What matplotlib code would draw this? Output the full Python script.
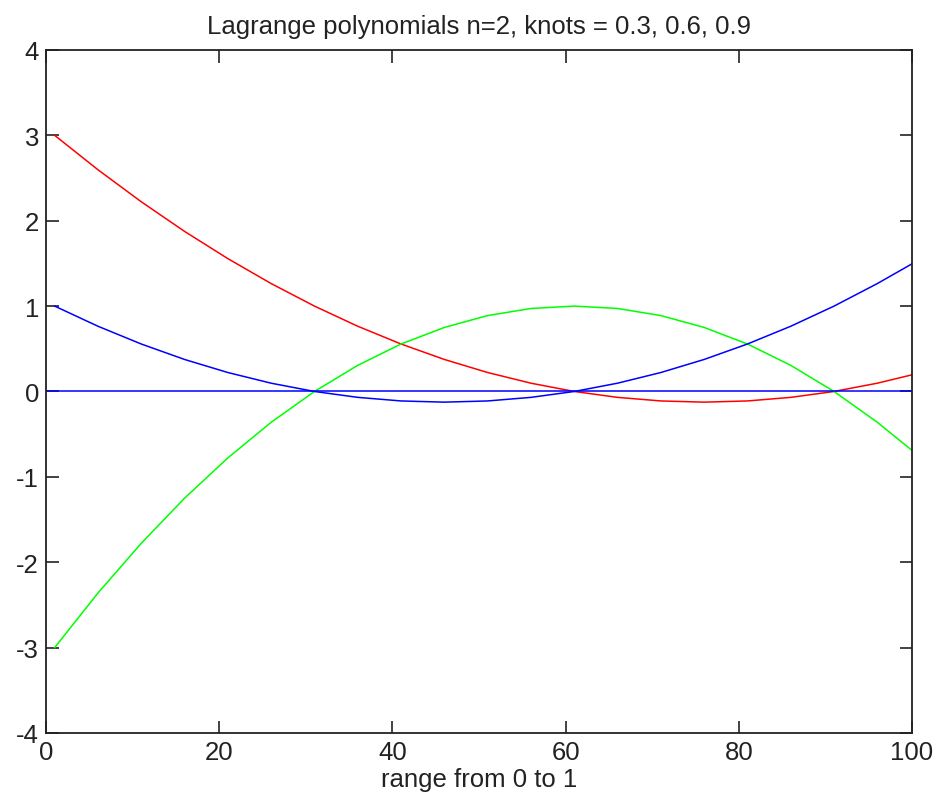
import matplotlib
matplotlib.use("Agg")
import matplotlib.pyplot as plt

plt.rcParams['font.family'] = ['Liberation Sans', 'DejaVu Sans']
plt.rcParams['axes.unicode_minus'] = False

# sample index (1..100 for t = 0..0.99), every 5th sample
idx = [1, 6, 11, 16, 21, 26, 31, 36, 41, 46, 51, 56, 61, 66, 71, 76, 81, 86, 91, 96, 100]

# basis polynomial for knot 0.3
l0 = [3.0, 2.597, 2.222, 1.875, 1.556, 1.264, 1.0, 0.764, 0.556, 0.375, 0.222,
      0.097, 0.0, -0.069, -0.111, -0.125, -0.111, -0.069, 0.0, 0.097, 0.195]
# basis polynomial for knot 0.6
l1 = [-3.0, -2.361, -1.778, -1.25, -0.778, -0.361, 0.0, 0.306, 0.556, 0.75, 0.889,
      0.972, 1.0, 0.972, 0.889, 0.75, 0.556, 0.306, 0.0, -0.361, -0.69]
# basis polynomial for knot 0.9
l2 = [1.0, 0.764, 0.556, 0.375, 0.222, 0.097, 0.0, -0.069, -0.111, -0.125, -0.111,
      -0.069, 0.0, 0.097, 0.222, 0.375, 0.556, 0.764, 1.0, 1.264, 1.495]

zero_x = [0, 100]
zero_y = [0, 0]

fig = plt.figure(figsize=(9.37, 8.04), dpi=100)
ax = fig.add_axes([0.0491, 0.0871, 0.9242, 0.8495])

ax.plot(idx, l0, color='#ff0000', lw=1.1)
ax.plot(idx, l1, color='#00ff00', lw=1.1)
ax.plot(idx, l2, color='#0000ff', lw=1.1)
ax.plot(zero_x, zero_y, color='#0000ff', lw=1.1)

ax.set_xlim(0, 100)
ax.set_ylim(-4, 4)
ax.set_xticks(range(0, 101, 20))
ax.set_yticks(range(-4, 5))
ax.tick_params(direction='in', length=9, width=1.2, labelsize=18.5, top=True, right=True,
               pad=5, colors='#222222')
for s in ax.spines.values():
    s.set_linewidth(1.3)
    s.set_color('#222222')

ax.set_title('Lagrange polynomials n=2, knots = 0.3, 0.6, 0.9', fontsize=18.5, pad=12,
             color='#222222')
ax.set_xlabel('range from 0 to 1', fontsize=18.5, labelpad=2, color='#222222')

fig.savefig('out.png', dpi=100)
